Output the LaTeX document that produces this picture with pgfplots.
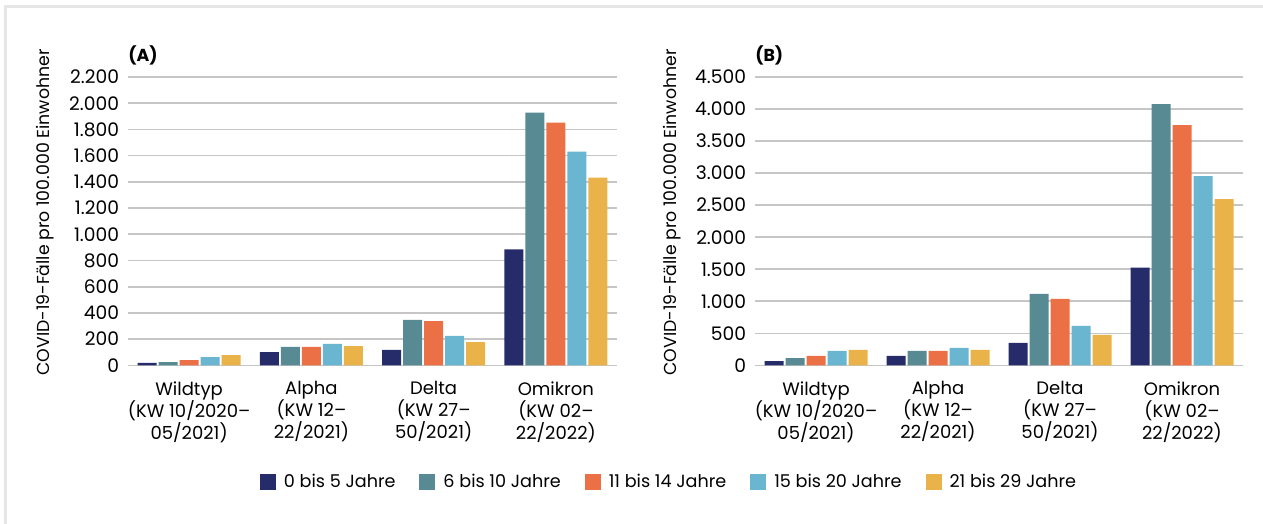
\documentclass[border=0pt]{standalone}
\usepackage{fontspec}
\setmainfont{Poppins}
\usepackage{pgfplots}
\pgfplotsset{compat=1.18}
\definecolor{cA}{HTML}{262B6A}
\definecolor{cB}{HTML}{578A93}
\definecolor{cC}{HTML}{EB7045}
\definecolor{cD}{HTML}{6AB5CF}
\definecolor{cE}{HTML}{E9B34A}
\definecolor{gridc}{HTML}{C6C6C6}
\definecolor{framec}{HTML}{E6E6E6}
\pgfplotsset{
  mybar/.style={
    scale only axis,
    height=216.2pt,
    clip=false,
    ybar=1.5pt, bar width=14.25pt,
    xmin=-0.5, xmax=3.5, ymin=0,
    enlargelimits=false,
    axis line style={draw=none},
    tick style={draw=none}, major tick length=0pt,
    ymajorgrids, grid style={line width=1.2pt, color=gridc},
    xtick={0,1,2,3},
    xticklabels={{Wildtyp\\(KW 10/2020–\\05/2021)},{Alpha\\(KW 12–\\22/2021)},{Delta\\(KW 27–\\50/2021)},{Omikron\\(KW 02–\\22/2022)}},
    xticklabel style={align=center, anchor=north, inner sep=0pt, yshift=-12pt,
      font=\fontsize{13.5}{16.5}\selectfont},
    yticklabel style={anchor=east, inner sep=0pt, xshift=-6.5pt, font=\fontsize{14}{16}\selectfont},
    scaled y ticks=false,
    /pgf/number format/.cd, 1000 sep={.}, assume math mode=true,
    /pgfplots/.cd,
    ylabel={COVID-19-Fälle pro 100.000 Einwohner},
    ylabel style={at={(axis description cs:-0.17,0.53)}, anchor=center, font=\fontsize{13}{15}\selectfont},
  }
}
\begin{document}
\begin{tikzpicture}
\useasboundingbox (0,0) rectangle (947.25pt,393pt);
\draw[line width=2.25pt, color=framec] (3.75pt,0pt) -- (3.75pt,387.75pt) -- (947.25pt,387.75pt);
\begin{axis}[mybar, at={(96pt,119pt)}, anchor=south west, width=366.75pt,
  ymax=2200, ytick={0,200,...,2200},
  legend columns=5,
  legend style={at={(1.107,-0.405)}, anchor=center, draw=none, fill=none,
    font=\fontsize{13.2}{15}\selectfont,
    /tikz/every even column/.append style={column sep=16pt},
    /tikz/every odd column/.append style={column sep=4pt}},
  legend image code/.code={\path[#1] (0pt,-6pt) rectangle (12pt,6pt);},
  ]
\addplot[fill=cA, draw=none] coordinates {(0,18) (1,101) (2,117) (3,884)};
\addplot[fill=cB, draw=none] coordinates {(0,25) (1,140) (2,346) (3,1929)};
\addplot[fill=cC, draw=none] coordinates {(0,40) (1,140) (2,338) (3,1853)};
\addplot[fill=cD, draw=none] coordinates {(0,63) (1,163) (2,224) (3,1630)};
\addplot[fill=cE, draw=none] coordinates {(0,78) (1,147) (2,178) (3,1433)};
\legend{0 bis 5 Jahre, 6 bis 10 Jahre, 11 bis 14 Jahre, 15 bis 20 Jahre, 21 bis 29 Jahre}
\node[anchor=west, inner sep=0pt, yshift=16.5pt, font=\fontsize{13}{15}\selectfont\bfseries] at (rel axis cs:0,1) {(A)};
\end{axis}
\begin{axis}[mybar, at={(566.25pt,119pt)}, anchor=south west, width=366pt,
  ymax=4500, ytick={0,500,...,4500}]
\addplot[fill=cA, draw=none] coordinates {(0,67) (1,146) (2,349) (3,1527)};
\addplot[fill=cB, draw=none] coordinates {(0,114) (1,224) (2,1114) (3,4078)};
\addplot[fill=cC, draw=none] coordinates {(0,146) (1,224) (2,1036) (3,3750)};
\addplot[fill=cD, draw=none] coordinates {(0,224) (1,271) (2,614) (3,2953)};
\addplot[fill=cE, draw=none] coordinates {(0,240) (1,240) (2,474) (3,2594)};
\node[anchor=west, inner sep=0pt, yshift=16.5pt, font=\fontsize{13}{15}\selectfont\bfseries] at (rel axis cs:0,1) {(B)};
\end{axis}
\end{tikzpicture}
\end{document}
